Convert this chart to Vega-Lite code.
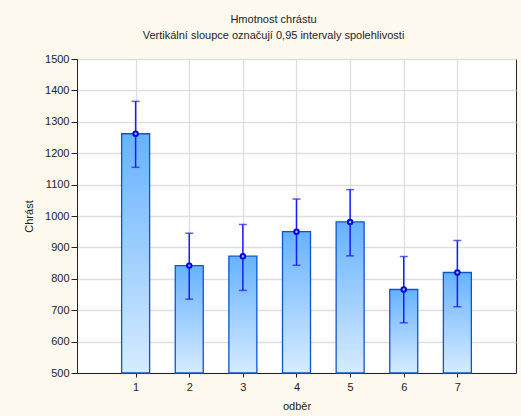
{
  "$schema": "https://vega.github.io/schema/vega-lite/v6.json",
  "autosize": "none",
  "width": 439,
  "height": 314,
  "padding": {"left": 77, "top": 59, "right": 5, "bottom": 43},
  "background": "#fdf9ee",
  "title": {
    "text": "Hmotnost chrástu",
    "subtitle": "Vertikální sloupce označují 0,95 intervaly spolehlivosti",
    "anchor": "middle",
    "dx": -23,
    "offset": 12,
    "font": "Liberation Sans",
    "fontSize": 11,
    "fontWeight": "normal",
    "color": "#222222",
    "subtitleFont": "Liberation Sans",
    "subtitleFontSize": 11,
    "subtitleColor": "#222222",
    "subtitlePadding": 5
  },
  "config": {
    "view": {"stroke": "#222222", "strokeWidth": 1, "fill": "white"},
    "axis": {
      "labelFont": "Liberation Sans",
      "labelFontSize": 11,
      "labelColor": "#222222",
      "labelOverlap": false,
      "titleFont": "Liberation Sans",
      "titleFontSize": 11,
      "titleFontWeight": "normal",
      "titleColor": "#222222",
      "domainColor": "#222222",
      "tickColor": "#222222",
      "gridColor": "#dedede",
      "gridWidth": 1.3
    },
    "axisY": {
      "title": "Chrást",
      "values": [500, 600, 700, 800, 900, 1000, 1100, 1200, 1300, 1400, 1500],
      "format": "d",
      "tickSize": 6,
      "labelPadding": 2,
      "titlePadding": 10,
      "grid": true
    }
  },
  "data": {
    "values": [
      {"odber": 1, "mean": 1262, "lo": 1155, "hi": 1365},
      {"odber": 2, "mean": 842, "lo": 735, "hi": 945},
      {"odber": 3, "mean": 872, "lo": 763, "hi": 973},
      {"odber": 4, "mean": 950, "lo": 843, "hi": 1054},
      {"odber": 5, "mean": 981, "lo": 873, "hi": 1084},
      {"odber": 6, "mean": 766, "lo": 660, "hi": 871},
      {"odber": 7, "mean": 820, "lo": 711, "hi": 922}
    ]
  },
  "encoding": {
    "x": {
      "field": "odber",
      "type": "quantitative",
      "scale": {"domain": [0, 8], "nice": false},
      "axis": {"title": "odběr", "values": [1, 2, 3, 4, 5, 6, 7], "format": "d", "tickSize": 4, "labelPadding": 4, "titlePadding": 8, "grid": true}
    }
  },
  "layer": [
    {
      "mark": {
        "type": "bar",
        "size": 28,
        "stroke": "#0c55cc",
        "strokeWidth": 1.3,
        "color": {
          "gradient": "linear",
          "x1": 0, "y1": 0, "x2": 0, "y2": 1,
          "stops": [
            {"offset": 0, "color": "#66b2ff"},
            {"offset": 1, "color": "#d6ebff"}
          ]
        }
      },
      "encoding": {
        "y": {
          "field": "mean",
          "type": "quantitative",
          "title": "Chrást",
          "scale": {"domain": [500, 1500], "nice": false, "zero": false}
        },
        "y2": {"datum": 500}
      }
    },
    {
      "mark": {"type": "rule", "color": "#1a1aff", "strokeWidth": 1.5},
      "encoding": {
        "y": {"field": "lo", "type": "quantitative", "title": "Chrást"},
        "y2": {"field": "hi"}
      }
    },
    {
      "mark": {"type": "tick", "orient": "horizontal", "color": "#1a1aff", "size": 8, "thickness": 1.5},
      "encoding": {"y": {"field": "lo", "type": "quantitative", "title": "Chrást"}}
    },
    {
      "mark": {"type": "tick", "orient": "horizontal", "color": "#1a1aff", "size": 8, "thickness": 1.5},
      "encoding": {"y": {"field": "hi", "type": "quantitative", "title": "Chrást"}}
    },
    {
      "mark": {"type": "point", "shape": "circle", "size": 20, "stroke": "#0000e6", "strokeWidth": 2, "fill": "#8fc3ff", "filled": false, "opacity": 1},
      "encoding": {"y": {"field": "mean", "type": "quantitative", "title": "Chrást"}}
    }
  ]
}
